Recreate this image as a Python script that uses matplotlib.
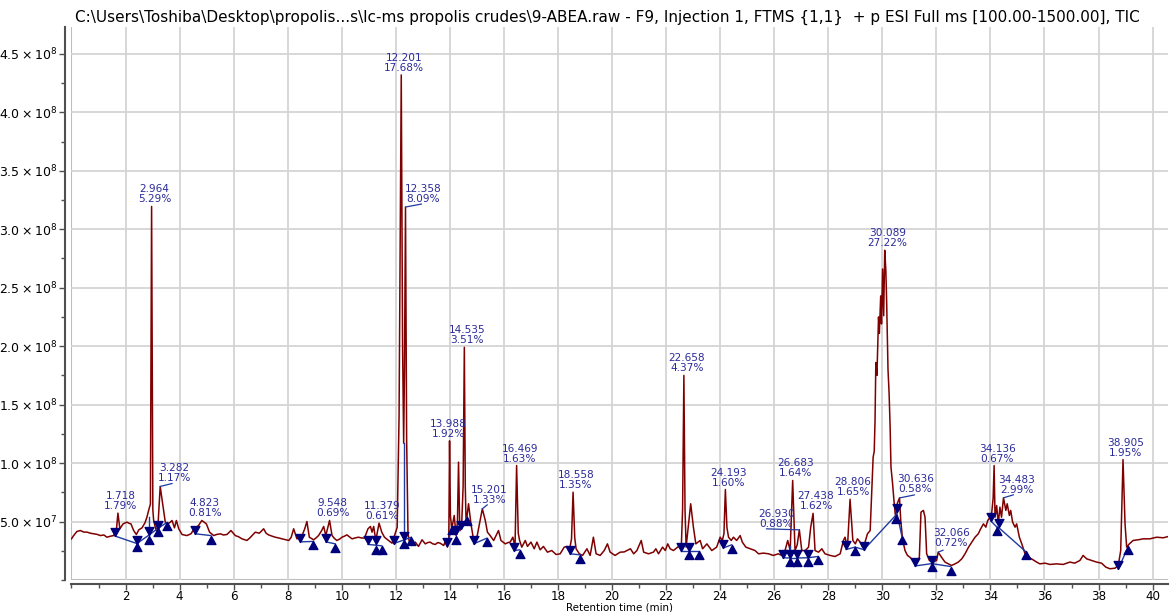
import numpy as np
import matplotlib
matplotlib.use('Agg')
import matplotlib.pyplot as plt
from matplotlib.path import Path
from matplotlib.ticker import MultipleLocator, FixedLocator, FuncFormatter

# TIC trace: retention time (min) and intensity (x1e7 counts)
rt = [0.00, 0.08, 0.20, 0.33, 0.45, 0.58, 0.70, 0.82, 0.95, 1.07, 1.20, 1.31, 1.45, 1.56, 1.66,
      1.718, 1.79, 1.91, 2.05, 2.13, 2.20, 2.30, 2.40, 2.49, 2.61, 2.72, 2.79, 2.86, 2.92,
      2.964, 3.01, 3.04, 3.13, 3.20, 3.282, 3.39, 3.47, 3.56, 3.66, 3.72, 3.81, 3.88, 3.97,
      4.09, 4.27, 4.42, 4.54, 4.70, 4.823, 4.99, 5.11, 5.26, 5.38, 5.51, 5.62, 5.75, 5.90,
      6.06, 6.18, 6.31, 6.49, 6.60, 6.68, 6.80, 6.95, 7.11, 7.20, 7.29, 7.42, 7.54, 7.66,
      7.79, 7.92, 8.04, 8.13, 8.22, 8.34, 8.44, 8.53, 8.63, 8.71, 8.80, 8.96, 9.05, 9.14,
      9.25, 9.33, 9.41, 9.548, 9.64, 9.73, 9.82, 9.92, 10.01, 10.10, 10.19, 10.28, 10.38,
      10.50, 10.62, 10.72, 10.84, 10.97, 11.06, 11.12, 11.18, 11.26, 11.379, 11.48, 11.58,
      11.73, 11.86, 11.95, 12.05, 12.12, 12.201, 12.25, 12.29, 12.32, 12.358, 12.40, 12.45,
      12.49, 12.59, 12.72, 12.84, 12.97, 13.09, 13.18, 13.27, 13.36, 13.46, 13.55, 13.64,
      13.77, 13.82, 13.91, 13.96, 13.988, 14.02, 14.07, 14.16, 14.23, 14.28, 14.32, 14.36,
      14.38, 14.44, 14.49, 14.535, 14.57, 14.60, 14.69, 14.78, 14.88, 15.00, 15.12, 15.201,
      15.31, 15.39, 15.49, 15.62, 15.71, 15.80, 15.89, 16.05, 16.15, 16.23, 16.33, 16.41,
      16.469, 16.53, 16.58, 16.66, 16.79, 16.87, 17.00, 17.12, 17.22, 17.34, 17.46, 17.61,
      17.77, 17.93, 18.08, 18.23, 18.33, 18.42, 18.50, 18.558, 18.62, 18.67, 18.79, 18.91,
      19.07, 19.19, 19.31, 19.41, 19.56, 19.71, 19.83, 19.93, 20.11, 20.30, 20.45, 20.68,
      20.80, 20.92, 21.08, 21.17, 21.35, 21.53, 21.62, 21.72, 21.87, 21.97, 22.06, 22.15,
      22.27, 22.46, 22.56, 22.61, 22.658, 22.70, 22.74, 22.83, 22.91, 23.01, 23.10, 23.26,
      23.35, 23.51, 23.69, 23.87, 24.00, 24.08, 24.14, 24.193, 24.25, 24.31, 24.41, 24.49,
      24.61, 24.74, 24.82, 24.95, 25.11, 25.29, 25.42, 25.60, 25.79, 25.97, 26.15, 26.28,
      26.40, 26.50, 26.59, 26.683, 26.77, 26.85, 26.93, 27.02, 27.15, 27.27, 27.35, 27.438,
      27.51, 27.64, 27.76, 27.88, 28.07, 28.25, 28.44, 28.56, 28.62, 28.71, 28.806, 28.91,
      29.00, 29.08, 29.18, 29.27, 29.36, 29.45, 29.55, 29.61, 29.66, 29.70, 29.73, 29.76,
      29.80, 29.86, 29.89, 29.94, 29.97, 30.01, 30.05, 30.089, 30.13, 30.16, 30.19, 30.21,
      30.25, 30.29, 30.32, 30.38, 30.43, 30.48, 30.51, 30.56, 30.636, 30.68, 30.75, 30.84,
      30.93, 31.02, 31.15, 31.27, 31.37, 31.43, 31.52, 31.58, 31.64, 31.74, 31.86, 32.01,
      32.066, 32.19, 32.32, 32.44, 32.56, 32.69, 32.81, 32.94, 33.06, 33.19, 33.31, 33.43,
      33.55, 33.64, 33.74, 33.83, 33.90, 33.99, 34.05, 34.10, 34.136, 34.17, 34.23, 34.29,
      34.35, 34.41, 34.483, 34.57, 34.62, 34.70, 34.75, 34.82, 34.91, 34.97, 35.07, 35.16,
      35.28, 35.40, 35.52, 35.71, 35.83, 36.02, 36.20, 36.45, 36.69, 36.94, 37.12, 37.31,
      37.43, 37.56, 37.74, 37.93, 38.11, 38.27, 38.42, 38.61, 38.73, 38.82, 38.905, 38.98,
      39.04, 39.14, 39.28, 39.47, 39.65, 39.90, 40.15, 40.39, 40.58]
tic = [3.52, 3.80, 4.15, 4.23, 4.10, 4.09, 4.00, 3.95, 3.90, 3.80, 3.85, 3.66, 3.75, 3.80, 4.23,
       5.72, 4.38, 4.80, 4.95, 4.85, 4.80, 4.23, 3.89, 4.29, 4.46, 4.90, 5.37, 6.00, 6.50,
       31.95, 6.00, 5.09, 4.23, 4.66, 8.00, 6.23, 4.95, 4.80, 4.95, 5.09, 4.46, 5.09, 4.38,
       3.89, 3.80, 3.95, 4.38, 4.66, 5.09, 4.80, 4.09, 3.80, 3.90, 3.95, 3.85, 3.89, 4.23,
       3.80, 3.70, 3.52, 3.38, 3.60, 3.80, 4.09, 4.00, 4.38, 4.00, 3.86, 3.75, 3.66, 3.60,
       3.52, 3.45, 3.38, 3.66, 4.38, 3.52, 3.60, 3.80, 4.38, 5.00, 3.66, 3.44, 3.60, 3.80,
       4.20, 4.58, 3.80, 5.09, 3.80, 3.55, 3.38, 3.50, 3.66, 3.75, 3.86, 3.70, 3.52,
       3.60, 3.66, 3.60, 3.58, 4.38, 4.58, 4.09, 4.58, 3.38, 4.86, 4.09, 3.66,
       3.38, 3.15, 3.80, 4.50, 14.0, 43.2, 20.0, 11.7, 18.0, 31.9, 12.0, 4.00,
       3.38, 2.95, 3.24, 2.87, 3.44, 3.09, 3.20, 3.24, 3.10, 3.04, 3.20, 3.15,
       2.95, 3.24, 2.81, 3.60, 11.9, 5.50, 4.38, 5.52, 3.80, 5.00, 10.08, 5.00,
       4.23, 4.95, 8.00, 19.9, 8.00, 4.80, 6.52, 4.80, 3.38, 3.66, 5.09, 6.09,
       5.09, 4.09, 3.80, 3.38, 3.80, 4.23, 3.38, 3.09, 3.20, 3.24, 3.66, 2.81,
       9.79, 4.00, 3.38, 2.81, 3.38, 2.87, 3.24, 2.67, 3.24, 2.58, 2.87, 2.38,
       2.52, 2.18, 2.24, 2.81, 2.87, 2.52, 3.50, 7.51, 3.60, 2.67, 2.24, 2.10,
       2.67, 2.10, 3.66, 2.24, 2.10, 2.52, 3.09, 2.38, 2.10, 2.38, 2.40, 2.67,
       2.24, 2.52, 3.38, 2.38, 2.24, 2.38, 2.67, 2.24, 2.81, 2.52, 3.09, 2.67,
       2.52, 2.87, 2.67, 6.00, 17.5, 6.00, 2.81, 4.80, 6.52, 4.52, 3.09, 3.38,
       2.67, 3.09, 2.52, 2.81, 3.66, 3.38, 3.95, 7.74, 4.50, 3.66, 3.38, 3.66,
       3.38, 3.80, 3.24, 2.81, 2.67, 2.52, 2.24, 2.30, 2.24, 2.10, 2.24, 2.10,
       2.52, 3.38, 2.52, 8.51, 2.52, 3.00, 4.29, 2.52, 2.52, 2.81, 4.50, 5.70,
       2.52, 2.38, 2.67, 2.24, 2.10, 2.01, 2.24, 3.38, 3.66, 2.81, 6.90, 3.38,
       3.09, 3.52, 3.24, 2.81, 3.24, 3.95, 4.23, 7.65, 10.5, 11.0, 13.6, 18.6,
       17.5, 22.5, 21.1, 24.3, 21.9, 26.6, 22.6, 28.2, 26.5, 23.8, 20.2, 18.0,
       16.0, 13.0, 9.65, 8.23, 6.80, 5.60, 5.45, 6.59, 7.02, 5.16, 3.45, 2.52,
       2.10, 1.95, 1.67, 1.53, 1.95, 5.80, 5.95, 5.37, 2.24, 1.67, 1.53, 1.67,
       2.38, 1.95, 1.53, 1.38, 1.24, 1.38, 1.53, 1.81, 2.24, 2.81, 3.24, 3.66,
       3.95, 4.38, 4.80, 4.52, 5.09, 5.37, 5.80, 7.00, 9.79, 5.37, 6.37, 4.80,
       6.23, 5.37, 7.03, 5.95, 6.52, 5.52, 5.95, 4.95, 4.52, 4.80, 3.66, 3.09,
       2.24, 1.95, 1.81, 1.53, 1.38, 1.44, 1.33, 1.38, 1.33, 1.53, 1.44, 1.67,
       2.10, 1.81, 1.67, 1.53, 1.44, 1.10, 0.96, 1.01, 1.24, 2.52, 10.3, 4.80,
       2.81, 3.09, 3.38, 3.44, 3.52, 3.52, 3.66, 3.61, 3.72]
scale = 1e7

# labelled peaks: retention time and area percent
peak_rt = [1.718, 2.964, 3.282, 4.823, 9.548, 11.379, 12.201, 12.358, 13.988, 14.535, 15.201,
           16.469, 18.558, 22.658, 24.193, 26.683, 26.930, 27.438, 28.806, 30.089, 30.636,
           32.066, 34.136, 34.483, 38.905]
peak_pct = [1.79, 5.29, 1.17, 0.81, 0.69, 0.61, 17.68, 8.09, 1.92, 3.51, 1.33,
            1.63, 1.35, 4.37, 1.60, 1.64, 0.88, 1.62, 1.65, 27.22, 0.58,
            0.72, 0.67, 2.99, 1.95]

# integration baselines (start rt, start int, end rt, end int), intensity x1e7
bl_segments = [(1.62, 3.75, 2.42, 3.12), (2.42, 3.12, 2.86, 3.83), (2.86, 3.83, 3.19, 4.40),
               (3.19, 4.40, 3.53, 4.92), (4.58, 3.95, 5.16, 3.80), (8.47, 3.26, 8.95, 3.30),
               (9.41, 3.26, 9.76, 3.09), (10.97, 3.04, 11.26, 2.98), (11.26, 2.98, 11.48, 2.92),
               (11.92, 3.12, 12.30, 3.42), (12.30, 3.42, 12.57, 3.66),
               (13.89, 2.90, 14.07, 4.50), (14.07, 4.50, 14.24, 3.90), (14.24, 3.90, 14.40, 4.40),
               (14.40, 4.40, 14.65, 5.40),
               (14.88, 3.09, 15.37, 3.58), (16.38, 2.52, 16.58, 2.58), (18.45, 2.24, 18.82, 2.15),
               (22.56, 2.52, 22.83, 2.52), (22.83, 2.52, 23.20, 2.52), (24.12, 2.75, 24.43, 3.01),
               (26.34, 1.90, 26.59, 1.88), (26.59, 1.88, 26.83, 1.88), (26.83, 1.88, 27.24, 1.90),
               (27.24, 1.90, 27.61, 2.01), (28.66, 2.61, 28.99, 2.81), (28.99, 2.81, 29.32, 2.60),
               (29.32, 2.60, 30.51, 5.57), (30.53, 5.83, 30.72, 3.78), (31.21, 1.20, 31.83, 1.40),
               (31.83, 1.40, 32.53, 1.15), (34.02, 5.03, 34.23, 4.55), (34.23, 4.55, 34.32, 4.45),
               (34.32, 4.45, 35.30, 2.44), (38.73, 0.95, 39.09, 2.80)]
peak_starts = [(1.62, 3.75), (2.42, 3.09), (2.86, 3.89), (3.19, 4.38), (4.58, 3.95), (8.47, 3.26),
               (9.41, 3.26), (10.97, 3.04), (11.26, 3.04), (11.92, 3.12), (12.30, 3.46),
               (13.89, 2.90), (14.24, 3.90), (14.40, 4.40), (14.88, 3.09), (16.38, 2.52),
               (18.45, 2.24), (22.56, 2.52), (22.83, 2.52), (24.12, 2.75), (26.34, 1.90),
               (26.59, 1.90), (26.83, 1.90), (27.24, 1.90), (28.66, 2.61), (29.32, 2.55),
               (30.53, 5.83), (31.21, 1.18), (31.83, 1.38), (34.02, 5.03), (34.32, 4.52),
               (38.73, 0.90)]
peak_ends = [(2.42, 3.15), (2.86, 3.78), (3.19, 4.43), (3.53, 4.92), (5.16, 3.80), (8.95, 3.35),
             (9.76, 3.09), (11.26, 2.92), (11.48, 2.92), (12.30, 3.38), (12.57, 3.66),
             (14.07, 4.58), (14.24, 3.80), (14.65, 5.43), (15.37, 3.58), (16.58, 2.58),
             (18.82, 2.15), (22.83, 2.52), (23.20, 2.52), (24.43, 3.01), (26.59, 1.87),
             (26.83, 1.87), (27.24, 1.87), (27.61, 2.01), (28.99, 2.81), (30.51, 5.57),
             (30.72, 3.78), (31.83, 1.44), (32.53, 1.15), (34.23, 4.52), (35.30, 2.44),
             (39.09, 2.87)]
# perpendicular drops between merged peaks (rt, from, to)
drop_lines = [(2.86, 3.83, 5.37), (12.30, 3.42, 11.7), (22.83, 2.52, 2.85), (26.59, 1.88, 2.95)]

# label placement in pixels relative to the apex, and leader line ends
label_shift = {3.282: (14, 1), 12.358: (18, 1), 15.201: (7, 2), 26.930: (-23, -1),
               30.636: (16, 2), 32.066: (13, 2), 34.483: (13, 1), 13.988: (-1, 0)}
leader_end = {3.282: (12, 3), 12.358: (16, 3), 15.201: (5, 4), 26.930: (-33, 1),
              30.636: (15, 3), 32.066: (5, 2), 34.483: (10, 3)}

trace_color = '#7f0000'
base_color = '#1f3aa0'
mark_color = '#00007a'
text_color = '#2b2b9a'
grid_color = '#d4d4d4'

t = np.array(rt)
y = np.array(tic) * scale

fig = plt.figure(figsize=(11.7, 6.12), dpi=100)
ax = fig.add_axes([0.0611, 0.0523, 0.9372, 0.9036])

ax.plot(t, y, color=trace_color, lw=1.1, zorder=3)

for t0, i0, t1, i1 in bl_segments:
    ax.plot([t0, t1], [i0 * scale, i1 * scale], color=base_color, lw=1.0, zorder=4)
for tt, a, b in drop_lines:
    ax.plot([tt, tt], [a * scale, b * scale], color=base_color, lw=1.0, zorder=4)

# triangles with their tip on the baseline point
down_tri = Path([(-0.55, 1.0), (0.55, 1.0), (0.0, 0.0), (-0.55, 1.0)],
                [Path.MOVETO, Path.LINETO, Path.LINETO, Path.CLOSEPOLY])
up_tri = Path([(-0.55, -1.0), (0.55, -1.0), (0.0, 0.0), (-0.55, -1.0)],
              [Path.MOVETO, Path.LINETO, Path.LINETO, Path.CLOSEPOLY])
ax.plot([p[0] for p in peak_starts], [p[1] * scale for p in peak_starts], ls='none',
        marker=down_tri, ms=11.5, color=mark_color, mec=mark_color, zorder=5)
ax.plot([p[0] for p in peak_ends], [p[1] * scale for p in peak_ends], ls='none',
        marker=up_tri, ms=11.5, color=mark_color, mec=mark_color, zorder=5)

for r, pct in zip(peak_rt, peak_pct):
    apex = y[np.argmin(np.abs(t - r))]
    dx, dy = label_shift.get(r, (3, 0))
    ax.annotate('%.3f\n%.2f%%' % (r, pct), xy=(r, apex), xytext=(dx, dy + 2),
                textcoords='offset pixels', ha='center', va='bottom', ma='center',
                fontsize=7.6, color=text_color, linespacing=1.0, zorder=6)
    if r in leader_end:
        lx, ly = leader_end[r]
        ax.annotate('', xy=(r, apex), xytext=(lx, ly), textcoords='offset pixels',
                    arrowprops=dict(arrowstyle='-', color=base_color, lw=0.9,
                                    shrinkA=0, shrinkB=0), zorder=6)

ax.set_xlim(0, 40.57)
ax.set_ylim(0, 4.73e8)

ax.xaxis.set_major_locator(FixedLocator(np.arange(2, 41, 2)))
ax.xaxis.set_minor_locator(MultipleLocator(1))
ax.yaxis.set_major_locator(FixedLocator(np.arange(5e7, 4.6e8, 5e7)))
ax.yaxis.set_minor_locator(MultipleLocator(2.5e7))


def sci_label(v, pos):
    e = int(np.floor(np.log10(v)))
    return r'$%.1f\times10^{%d}$' % (v / 10 ** e, e)


ax.yaxis.set_major_formatter(FuncFormatter(sci_label))

ax.grid(True, which='major', color=grid_color, lw=1.3, zorder=0)
ax.axvline(0, color='#bdbdbd', lw=1.5, zorder=1)
ax.axhline(0, color='#bdbdbd', lw=1.5, zorder=1)
for s in ['top', 'right']:
    ax.spines[s].set_visible(False)
ax.spines['left'].set_position(('outward', 5))
ax.spines['bottom'].set_position(('outward', 3))
for s in ['left', 'bottom']:
    ax.spines[s].set_color('#505050')
    ax.spines[s].set_linewidth(1.5)
ax.tick_params(which='major', length=4, width=1, color='#505050', pad=1)
ax.tick_params(which='minor', length=3, width=1, color='#505050')
ax.tick_params(axis='x', labelsize=8.6, pad=0)
ax.tick_params(axis='y', labelsize=9)
ax.set_xlabel('Retention time (min)', fontsize=7.4, va='center')
ax.xaxis.set_label_coords(0.5, -0.049)

fig.text(75 / 1170, 1 - 17 / 612,
         r'C:\Users\Toshiba\Desktop\propolis...s\lc-ms propolis crudes\9-ABEA.raw - F9, '
         r'Injection 1, FTMS {1,1}  + p ESI Full ms [100.00-1500.00], TIC',
         fontsize=11, va='center', ha='left')

fig.savefig('out.png', dpi=100)
